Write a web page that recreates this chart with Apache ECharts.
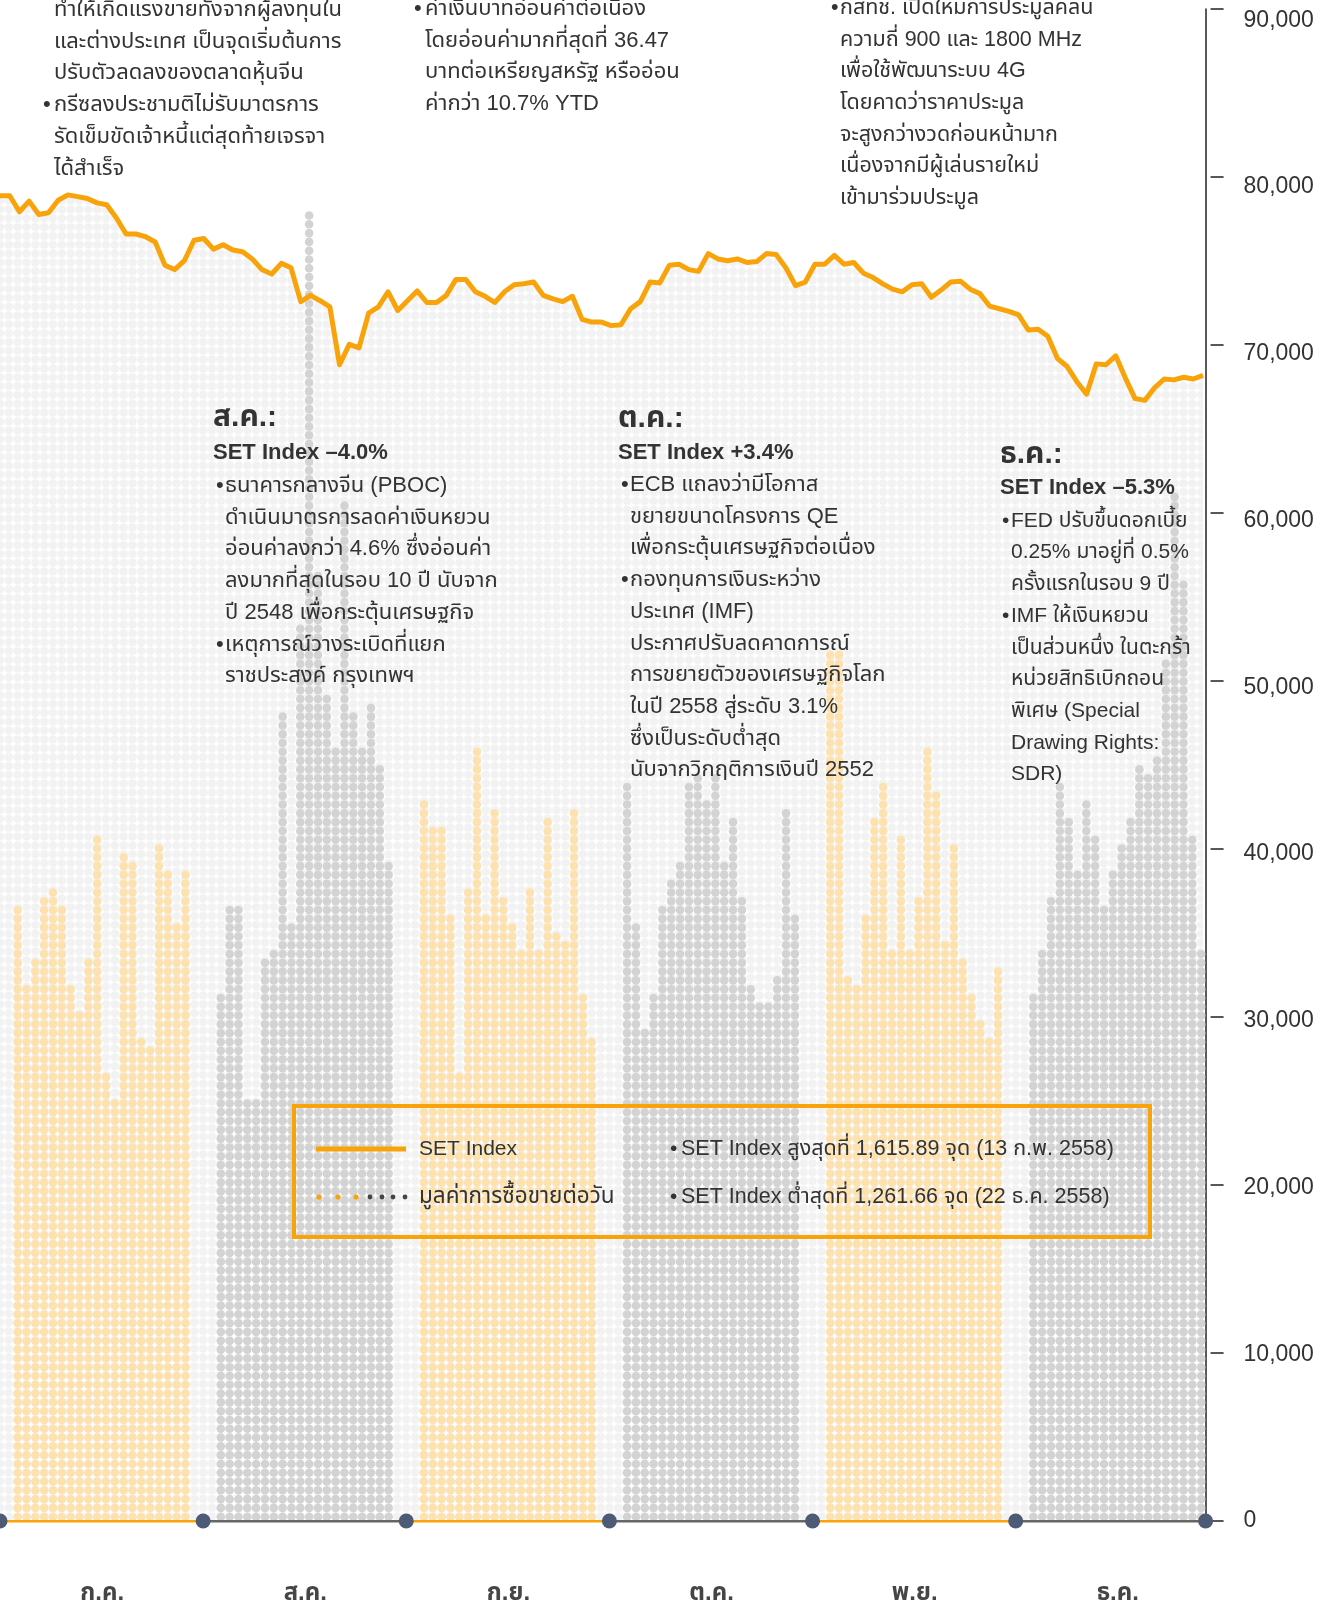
<!DOCTYPE html>
<html>
<head>
<meta charset="utf-8">
<script src="https://cdn.jsdelivr.net/npm/echarts@6/dist/echarts.min.js"></script>
<style>
  html, body { margin: 0; padding: 0; background: #fff; }
  #chart { width: 1326px; height: 1602px; }
</style>
</head>
<body>
<div id="chart"></div>
<script>
// ---- data ----
const months = ['ก.ค.', 'ส.ค.', 'ก.ย.', 'ต.ค.', 'พ.ย.', 'ธ.ค.'];

// daily trading value (million baht), 20 columns per month
const valJul = [36400, 31900, 33000, 37000, 37500, 36600, 31400, 30300, 33000, 40800,
                26500, 25000, 39700, 39200, 28700, 28200, 39800, 38700, 35100, 38700];
const valAug = [30900, 36200, 36600, 24700, 24700, 33000, 33800, 47800, 35100, 53300,
                77900, 56000, 49000, 45600, 60500, 47800, 45600, 48400, 44700, 38900];
const valSep = [42600, 41100, 41100, 35600, 26500, 37400, 45600, 35600, 42000, 36800,
                35300, 33800, 37400, 33800, 41700, 35000, 34400, 42000, 31000, 28300];
const valOct = [43500, 35100, 28800, 31300, 36200, 37700, 39200, 43500, 44100, 42900,
                44100, 39200, 41700, 36800, 31600, 30400, 30400, 32000, 42000, 35600];
const valNov = [51400, 51400, 32000, 31600, 35600, 41700, 43500, 33800, 40800, 33800,
                37100, 45600, 43200, 34400, 40200, 33200, 31300, 29500, 28300, 32600];
const valDec = [31300, 33500, 36800, 43500, 41700, 38700, 42900, 40500, 36200, 38700,
                39900, 41700, 44700, 44100, 45300, 50800, 60900, 55700, 40500, 33500];
const monthVals = [valJul, valAug, valSep, valOct, valNov, valDec];

// SET Index, one point per trading day
const setIndex = [
  1490, 1490, 1472, 1484, 1469, 1471, 1485, 1491, 1489, 1487, 1482, 1480, 1465, 1447, 1447, 1444,
  1438, 1412, 1407, 1417, 1440, 1442, 1430, 1435, 1429, 1427, 1419, 1407, 1402, 1414, 1409, 1371,
  1378, 1372, 1365, 1300, 1323, 1319, 1358, 1365, 1382, 1361, 1372, 1383, 1370, 1370, 1378, 1396,
  1396, 1382, 1377, 1370, 1382, 1390, 1391, 1393, 1378, 1374, 1371, 1377, 1351, 1348, 1348,
  1344, 1345, 1363, 1371, 1393, 1392, 1412, 1413, 1407, 1405, 1425, 1419, 1417, 1419, 1415, 1416,
  1425, 1424, 1409, 1389, 1393, 1413, 1413, 1423, 1413, 1415, 1403, 1398, 1391, 1385, 1382, 1390,
  1391, 1376, 1384, 1393, 1394, 1385, 1380, 1366, 1363, 1360, 1356, 1339, 1340, 1332, 1307, 1298,
  1281, 1267, 1301, 1300, 1310, 1285, 1262, 1260, 1274, 1284, 1283, 1286, 1284, 1288
];

const noteJul = ['ทำให้เกิดแรงขายทั้งจากผู้ลงทุนใน', 'และต่างประเทศ เป็นจุดเริ่มต้นการ', 'ปรับตัวลดลงของตลาดหุ้นจีน',
  '• กรีซลงประชามติไม่รับมาตรการ', 'รัดเข็มขัดเจ้าหนี้แต่สุดท้ายเจรจา', 'ได้สำเร็จ'];
const noteSep = ['• ค่าเงินบาทอ่อนค่าต่อเนื่อง', 'โดยอ่อนค่ามากที่สุดที่ 36.47', 'บาทต่อเหรียญสหรัฐ หรืออ่อน', 'ค่ากว่า 10.7% YTD'];
const noteNov = ['• กสทช. เปิดให้มีการประมูลคลื่น', 'ความถี่ 900 และ 1800 MHz', 'เพื่อใช้พัฒนาระบบ 4G', 'โดยคาดว่าราคาประมูล',
  'จะสูงกว่างวดก่อนหน้ามาก', 'เนื่องจากมีผู้เล่นรายใหม่', 'เข้ามาร่วมประมูล'];
const noteAug = ['• ธนาคารกลางจีน (PBOC)', 'ดำเนินมาตรการลดค่าเงินหยวน', 'อ่อนค่าลงกว่า 4.6% ซึ่งอ่อนค่า',
  'ลงมากที่สุดในรอบ 10 ปี นับจาก', 'ปี 2548 เพื่อกระตุ้นเศรษฐกิจ', '• เหตุการณ์วางระเบิดที่แยก', 'ราชประสงค์ กรุงเทพฯ'];
const noteOct = ['• ECB แถลงว่ามีโอกาส', 'ขยายขนาดโครงการ QE', 'เพื่อกระตุ้นเศรษฐกิจต่อเนื่อง', '• กองทุนการเงินระหว่าง',
  'ประเทศ (IMF)', 'ประกาศปรับลดคาดการณ์', 'การขยายตัวของเศรษฐกิจโลก', 'ในปี 2558 สู่ระดับ 3.1%',
  'ซึ่งเป็นระดับต่ำสุด', 'นับจากวิกฤติการเงินปี 2552'];
const noteDec = ['• FED ปรับขึ้นดอกเบี้ย', '0.25% มาอยู่ที่ 0.5%', 'ครั้งแรกในรอบ 9 ปี', '• IMF ให้เงินหยวน',
  'เป็นส่วนหนึ่ง ในตะกร้า', 'หน่วยสิทธิเบิกถอน', 'พิเศษ (Special', 'Drawing Rights:', 'SDR)'];

// ---- layout / style ----
const W = 1326, H = 1602;
const PITCH = 8.832;            // dot pitch
const DOT = 8.6;
const GRID_TOP = 9, GRID_BOTTOM = 81;
const LABEL_TOP = 20.4;         // tick labels sit a little lower than the ticks
const GL = -PITCH / 2;
const ORANGE = '#f9a30a';
const BAR_ORANGE = '#fde2b0';
const BAR_GREY = '#d3d3d3';
const BG_DOT = '#f2f2f2';
const TEXT = '#333333';
const FONT = '"Liberation Sans", "Noto Sans Thai", "Noto Sans", sans-serif';
const BODY = 22;

// build slots: boundary, gap, 20 days, gap
const cats = [], barData = [], starts = [];
monthVals.forEach((vals, m) => {
  const start = cats.length;
  starts.push(start);
  cats.push(''); barData.push('-');
  cats.push(''); barData.push('-');
  vals.forEach((v) => {
    cats.push('');
    barData.push({ value: v, itemStyle: { color: m % 2 ? BAR_GREY : BAR_ORANGE } });
  });
  if (m < monthVals.length - 1) { cats.push(''); barData.push('-'); }
  cats[start + 11] = months[m];
});
const nSlots = cats.length;
const gridRight = W - (GL + nSlots * PITCH);

const markerData = starts.map((s) => [s + 0.5, 0]).concat([[nSlots, 0]]);
const baseSegs = starts.map((s, m) => ({
  coords: [[s + 0.5, 0], [m < starts.length - 1 ? starts[m + 1] + 0.5 : nSlots, 0]],
  lineStyle: { color: m % 2 ? '#666666' : ORANGE },
}));

function dotPattern() {
  const c = document.createElement('canvas');
  c.width = c.height = 100;
  const ctx = c.getContext('2d');
  ctx.fillStyle = BG_DOT;
  const r = DOT / PITCH * 5;
  for (let i = 0; i < 10; i++) {
    for (let j = 0; j < 10; j++) {
      ctx.beginPath();
      ctx.arc(5 + 10 * i, 5 + 10 * j, r, 0, Math.PI * 2);
      ctx.fill();
    }
  }
  return {
    image: c, repeat: 'repeat',
    x: GL, y: (H - GRID_BOTTOM) % PITCH,
    scaleX: PITCH / 10, scaleY: PITCH / 10,
  };
}

// annotation text blocks
const LH = 31.7;
function textEl(x, y, text, size, weight) {
  return {
    type: 'text', z: 100, x: x, y: y,
    style: {
      text: text, fill: TEXT, fontSize: size, fontWeight: weight || 'normal', fontFamily: FONT,
      align: 'left', verticalAlign: 'middle', textAlign: 'left', textVerticalAlign: 'middle',
    },
  };
}
function noteBlock(bulletX, textX, y0, lines, size) {
  const els = [];
  size = size || BODY;
  lines.forEach((ln, i) => {
    const y = y0 + i * LH;
    if (ln.startsWith('• ')) {
      els.push(textEl(bulletX, y, '•', size));
      els.push(textEl(textX, y, ln.slice(2), size));
    } else {
      els.push(textEl(textX, y, ln, size));
    }
  });
  return els;
}

const graphics = [].concat(
  noteBlock(43, 54, 10, noteJul),
  noteBlock(414, 425, 9, noteSep),
  noteBlock(831, 840, 8, noteNov, 21.5),
  [textEl(213, 418, 'ส.ค.:', 30, 'bold'), textEl(213, 453, 'SET Index –4.0%', 22, 'bold')],
  noteBlock(216, 225, 486, noteAug),
  [textEl(618, 419, 'ต.ค.:', 30, 'bold'), textEl(618, 453, 'SET Index +3.4%', 22, 'bold')],
  noteBlock(621, 630, 485, noteOct),
  [textEl(1000, 455, 'ธ.ค.:', 30, 'bold'), textEl(1000, 488, 'SET Index –5.3%', 22, 'bold')],
  noteBlock(1002, 1011, 521, noteDec, 21),
  // legend box
  [
    { type: 'rect', z: 100, shape: { x: 294, y: 1106, width: 856, height: 131 },
      style: { fill: 'none', stroke: ORANGE, lineWidth: 4 } },
    { type: 'line', z: 100, shape: { x1: 316, y1: 1149, x2: 406, y2: 1149 },
      style: { stroke: ORANGE, lineWidth: 5 } },
    textEl(419, 1149, 'SET Index', 21),
    textEl(419, 1197, 'มูลค่าการซื้อขายต่อวัน', 22.5),
    textEl(670, 1149, '•', 21),
    textEl(681, 1149, 'SET Index สูงสุดที่ 1,615.89 จุด (13 ก.พ. 2558)', 21.5),
    textEl(670, 1197, '•', 21),
    textEl(681, 1197, 'SET Index ต่ำสุดที่ 1,261.66 จุด (22 ธ.ค. 2558)', 21.5),
  ],
  [319, 338, 356].map((x) => ({ type: 'circle', z: 100, shape: { cx: x, cy: 1197, r: 2.6 }, style: { fill: ORANGE } })),
  [370, 382, 393, 405].map((x) => ({ type: 'circle', z: 100, shape: { cx: x, cy: 1197, r: 2.4 }, style: { fill: '#444' } }))
);

const chart = echarts.init(document.getElementById('chart'), null, { renderer: 'canvas' });
chart.setOption({
  animation: false,
  backgroundColor: '#fff',
  grid: [
    { left: GL, right: gridRight, top: GRID_TOP, bottom: GRID_BOTTOM, outerBoundsMode: 'none', containLabel: false },
    { left: 0, right: 123, top: GRID_TOP, bottom: GRID_BOTTOM, outerBoundsMode: 'none', containLabel: false },
    { left: GL, right: gridRight, top: LABEL_TOP, bottom: GRID_BOTTOM, outerBoundsMode: 'none', containLabel: false },
  ],
  xAxis: [
    {
      type: 'category', gridIndex: 0, data: cats,
      axisLine: { show: false, onZero: false }, axisTick: { show: false },
      axisLabel: {
        interval: 0, margin: 60, color: '#454545', fontSize: 24, fontWeight: 'bold', fontFamily: FONT,
        padding: [0, 0, 0, 10],
      },
    },
    { type: 'category', gridIndex: 1, boundaryGap: false, data: setIndex.map((_, i) => i), show: false },
    { type: 'value', gridIndex: 0, min: 0, max: nSlots, show: false, axisLine: { onZero: false } },
    { type: 'value', gridIndex: 2, min: 0, max: nSlots, show: false, axisLine: { onZero: false } },
  ],
  yAxis: [
    {
      type: 'value', gridIndex: 0, position: 'right', min: 0, max: 90000, interval: 10000,
      splitLine: { show: false },
      axisLine: { show: true, onZero: false, lineStyle: { color: '#222', width: 1.5 } },
      axisTick: { show: false },
      axisLabel: { show: false },
    },
    {
      type: 'value', gridIndex: 0, position: 'right', offset: 5, min: 0, max: 90000, interval: 10000,
      splitLine: { show: false }, axisLine: { show: false, onZero: false },
      axisTick: { show: true, length: 13, lineStyle: { color: '#222', width: 1.5 } },
      axisLabel: { show: false },
    },
    { type: 'value', gridIndex: 1, min: 0, max: 1700, show: false },
    {
      type: 'value', gridIndex: 2, position: 'right', min: 0, max: 90000, interval: 10000,
      splitLine: { show: false }, axisLine: { show: false, onZero: false }, axisTick: { show: false },
      axisLabel: {
        margin: 38, color: TEXT, fontSize: 23, fontFamily: FONT,
        formatter: (v) => v.toLocaleString('en-US'),
      },
    },
  ],
  series: [
    {
      name: 'SET Index', type: 'line', xAxisIndex: 1, yAxisIndex: 2, z: 1,
      data: setIndex, symbol: 'none', silent: true,
      lineStyle: { width: 0 },
      areaStyle: { color: dotPattern(), opacity: 1 },
    },
    {
      name: 'มูลค่าการซื้อขายต่อวัน', type: 'pictorialBar', xAxisIndex: 0, yAxisIndex: 0, z: 2,
      symbol: 'circle', symbolRepeat: true, symbolSize: [DOT, DOT],
      symbolMargin: (PITCH - DOT) / 2, symbolClip: false,
      data: barData,
    },
    {
      name: 'SET Index line', type: 'line', xAxisIndex: 1, yAxisIndex: 2, z: 3,
      data: setIndex, symbol: 'none',
      lineStyle: { color: ORANGE, width: 5, join: 'round' },
    },
    {
      type: 'lines', coordinateSystem: 'cartesian2d', xAxisIndex: 2, yAxisIndex: 0, z: 4,
      lineStyle: { width: 3, opacity: 1 }, data: baseSegs,
    },
    {
      type: 'scatter', xAxisIndex: 2, yAxisIndex: 0, z: 5, clip: false,
      symbol: 'circle', symbolSize: 15, itemStyle: { color: '#4e5b76', opacity: 1 },
      data: markerData,
    },
  ],
  graphic: graphics,
});
</script>
</body>
</html>
